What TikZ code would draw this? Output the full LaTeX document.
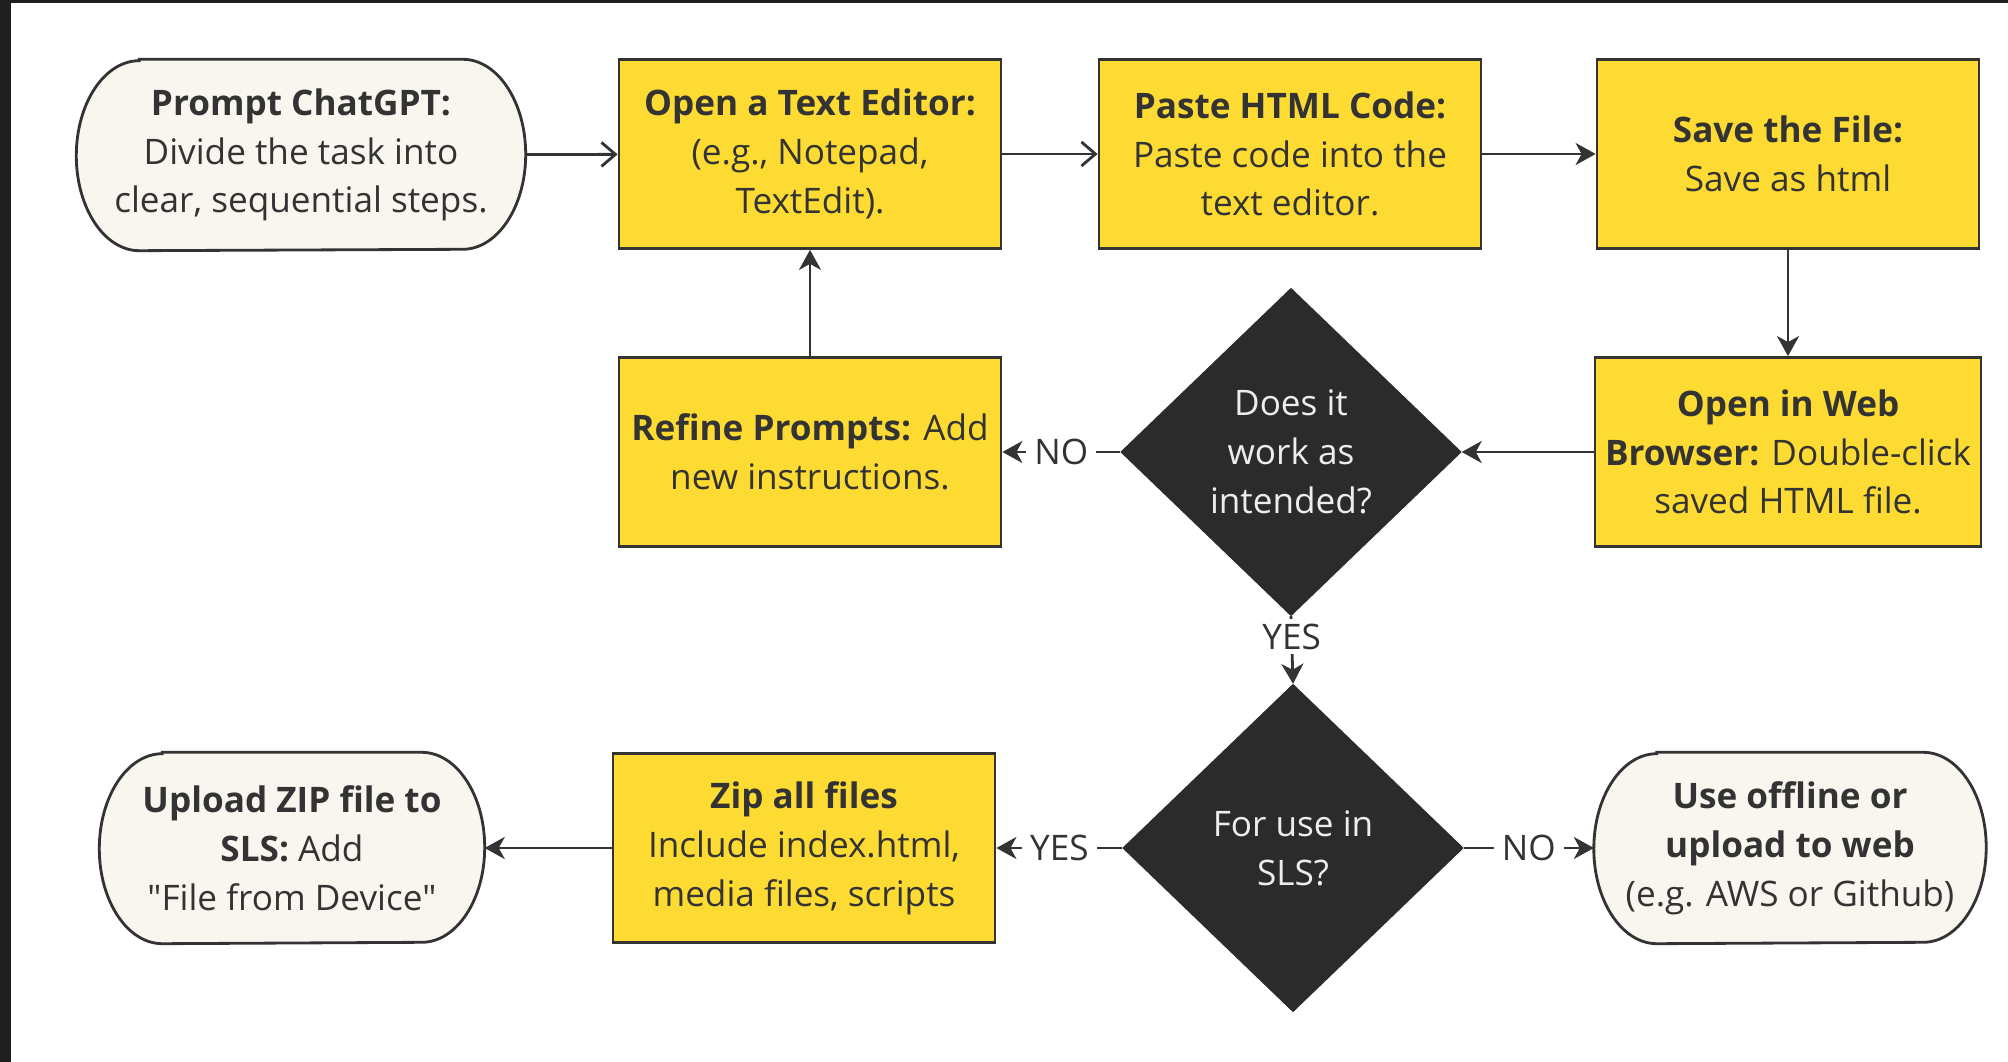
\documentclass[tikz,border=0pt]{standalone}
\usepackage{fontspec}
\setmainfont{Open Sans}
\usetikzlibrary{shapes.geometric, arrows.meta, backgrounds, positioning}
\definecolor{stepyellow}{HTML}{FDDB33}
\definecolor{termcream}{HTML}{F8F6EE}
\definecolor{decisiondark}{HTML}{2B2B2B}
\definecolor{inkgray}{HTML}{333333}
\definecolor{framedark}{HTML}{1E1E1E}
\newcommand{\flowfont}{\fontsize{10}{13.9}\selectfont}

\tikzset{
	stepbox/.style={rectangle, draw=inkgray, fill=stepyellow, line width=0.8pt, minimum width=38.2mm, minimum height=18.9mm, inner xsep=1mm, align=center, text=inkgray, font=\flowfont},
	terminal/.style={rectangle, minimum height=19mm, inner xsep=1mm, align=center, text=inkgray, font=\flowfont},
	termline/.style={draw=inkgray, fill=termcream, line width=0.8pt},
	decision/.style={diamond, draw=decisiondark, fill=decisiondark, minimum width=34mm, minimum height=32.7mm, inner sep=0pt, align=center, text=white!93!black, font=\flowfont},
	flow/.style={draw=inkgray, line width=0.8pt, -{Stealth[length=2mm, width=2.2mm, inset=0.6mm]}},
	openflow/.style={draw=inkgray, line width=0.8pt, -{Straight Barb[length=1.4mm, width=2.4mm]}},
	answer/.style={fill=white, inner xsep=0.8mm, inner ysep=0.5mm, text=inkgray, font=\flowfont}
}

\begin{document}
\begin{tikzpicture}[x=0.1mm, y=-0.1mm]
	\useasboundingbox (0,0) rectangle (2008,1062);
	\begin{scope}[on background layer]
		\fill[white] (0,0) rectangle (2008,1062);
		\fill[framedark] (0,0) rectangle (11,1062);
		\fill[framedark] (0,0) rectangle (2008,3);
	\end{scope}

	% top row
	\node[terminal, minimum width=44.8mm] (prompt) at (301,155) {\textbf{Prompt ChatGPT:}\\Divide the task into\\clear, sequential steps.};
	\node[stepbox] (editor) at (810,154) {\textbf{Open a Text Editor:}\\(e.g., Notepad,\\TextEdit).};
	\node[stepbox] (paste) at (1290,154) {\textbf{Paste HTML Code:}\\Paste code into the\\text editor.};
	\node[stepbox] (save) at (1788,154) {\textbf{Save the File:}\\Save as html};

	% middle row
	\node[stepbox] (refine) at (810,452) {\textbf{Refine Prompts:} Add\\new instructions.};
	\node[decision] (works) at (1291,452) {Does it\\work as\\intended?};
	\node[stepbox] (browser) at (1788,452) {\textbf{Open in Web}\\\textbf{Browser:} Double-click\\saved HTML file.};

	% bottom row
	\node[terminal, minimum width=38.4mm] (upload) at (292,848) {\textbf{Upload ZIP file to}\\\textbf{SLS:} Add\\\textquotedbl File from Device\textquotedbl};
	\node[stepbox] (zip) at (804,848) {\textbf{Zip all files}\\Include index.html,\\media files, scripts};
	\node[decision] (sls) at (1293,848) {For use in\\SLS?};
	\node[terminal, minimum width=39.1mm] (offline) at (1790,848) {\textbf{Use offline or}\\\textbf{upload to web}\\(e.g. AWS or Github)};

	% stadium outlines behind the terminal texts
	\begin{scope}[on background layer]
		\foreach \n in {prompt, upload, offline}
			\draw[termline] ([xshift=6.3mm]\n.north west) -- ([xshift=-6.3mm]\n.north east)
				arc[start angle=90, end angle=-90, x radius=6.3mm, y radius=9.5mm]
				-- ([xshift=6.3mm]\n.south west)
				arc[start angle=270, end angle=90, x radius=6.3mm, y radius=9.5mm] -- cycle;
	\end{scope}

	\draw[openflow] (prompt) -- (editor);
	\draw[openflow] (editor) -- (paste);
	\draw[flow] (paste) -- (save);
	\draw[flow] (save) -- (browser);
	\draw[flow] (browser) -- (works);
	\draw[flow] (works) -- node[answer]{NO} (refine);
	\draw[flow] (refine) -- (editor);
	\draw[flow] (works.south) -- node[answer, pos=0.3]{YES} (sls.north);
	\draw[flow] (sls) -- node[answer]{YES} (zip);
	\draw[flow] (sls) -- node[answer]{NO} (offline);
	\draw[flow] (zip) -- (upload);
\end{tikzpicture}
\end{document}
